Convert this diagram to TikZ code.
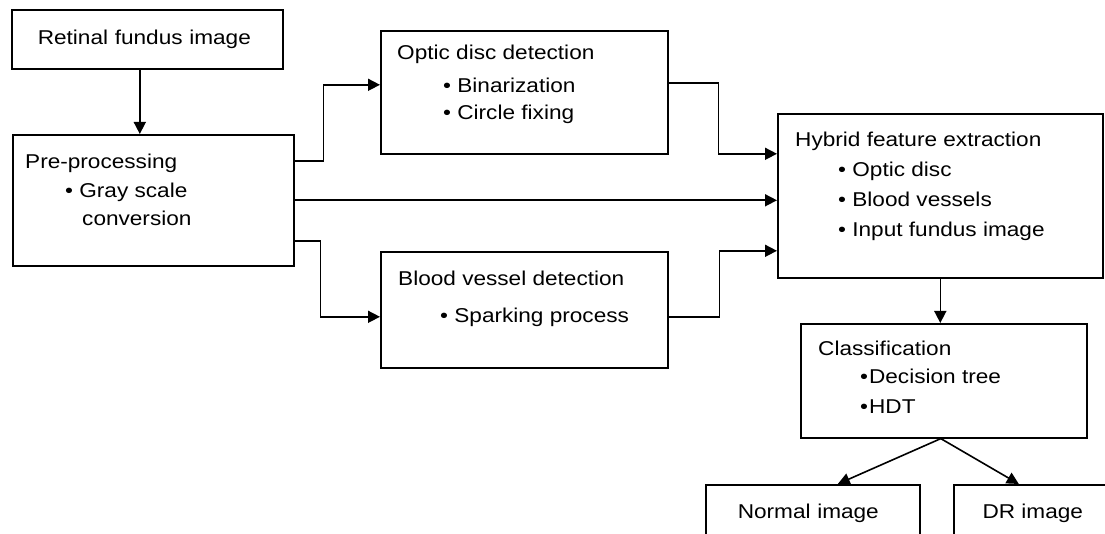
\documentclass[tikz,border=0pt]{standalone}
\usepackage{fontspec}
\setmainfont{Liberation Sans}[FakeStretch=1.13]
\usepackage{tikz}
\usetikzlibrary{positioning, arrows.meta}

\begin{document}
\begin{tikzpicture}[
    x=1pt, y=-1pt,
    box/.style={rectangle, draw, line width=1.6pt, anchor=north west, inner sep=0pt, font=\fontsize{20}{30}\selectfont},
    txt/.style={anchor=north west, inner sep=0pt, align=left, font=\fontsize{20}{30}\selectfont},
    arrow/.style={-{Triangle[length=12pt, width=12pt]}, line width=1.6pt}
]
\useasboundingbox (0,0) rectangle (1105,534);
\clip (0,0) rectangle (1105,534);

% Boxes
\node[box, minimum width=271pt, minimum height=59pt, text width=219pt, align=left] (fundus) at (11,9) {Retinal fundus image};
\node[box, minimum width=281pt, minimum height=131pt] (pre) at (12,134) {};
\node[box, minimum width=287pt, minimum height=123pt] (od) at (380,30) {};
\node[box, minimum width=287pt, minimum height=116pt] (bv) at (380,251) {};
\node[box, minimum width=325pt, minimum height=164pt] (hfe) at (777,113) {};
\node[box, minimum width=286pt, minimum height=114pt] (cls) at (800,323) {};
\node[box, minimum width=214pt, minimum height=58pt, text width=150pt, align=left] (normal) at (705,484) {Normal image};
\node[box, minimum width=158pt, minimum height=58pt] (dr) at (953,484) {DR image};

% Box texts
\node[txt] (pretxt) at (25,153.5) {Pre-processing\\[-1pt]\hspace*{40pt}\textbullet\ Gray scale\\[-2pt]\hspace*{57pt}conversion};
\node[txt] (odtxt) at (397,44.5) {Optic disc detection\\[3pt]\hspace*{46pt}\textbullet\ Binarization\\[-3pt]\hspace*{46pt}\textbullet\ Circle fixing};
\node[txt] (bvtxt) at (398,270.5) {Blood vessel detection\\[7pt]\hspace*{42pt}\textbullet\ Sparking process};
\node[txt] (hfetxt) at (795,131.5) {Hybrid feature extraction\\\hspace*{43pt}\textbullet\ Optic disc\\\hspace*{43pt}\textbullet\ Blood vessels\\\hspace*{43pt}\textbullet\ Input fundus image};
\node[txt] (clstxt) at (818,340.5) {Classification\\[-2pt]\hspace*{42pt}\textbullet\hspace{1pt}Decision tree\\\hspace*{42pt}\textbullet\hspace{1pt}HDT};

% Arrows
\draw[arrow] ([xshift=-7.5pt]fundus.south) -- ([xshift=-7.5pt]fundus.south |- pre.north);
\draw[arrow] ([yshift=39.5pt]pre.east) -- ++(29,0) |- ([yshift=7.5pt]od.west);
\draw[arrow] (pre.east) -- (pre.east -| hfe.west);
\draw[arrow] ([yshift=-40.5pt]pre.east) -- ++(26,0) |- ([yshift=-7pt]bv.west);
\draw[arrow] ([yshift=9.5pt]od.east) -- ++(50,0) |- ([yshift=42pt]hfe.west);
\draw[arrow] ([yshift=-7pt]bv.east) -- ++(51,0) |- ([yshift=-55pt]hfe.west);
\draw[arrow] (hfe.south) -- (hfe.south |- cls.north);
\draw[arrow] ([xshift=-3pt]cls.south) -- ([xshift=25pt]normal.north);
\draw[arrow] ([xshift=-3pt]cls.south) -- ([xshift=-14pt]dr.north);
\end{tikzpicture}
\end{document}
